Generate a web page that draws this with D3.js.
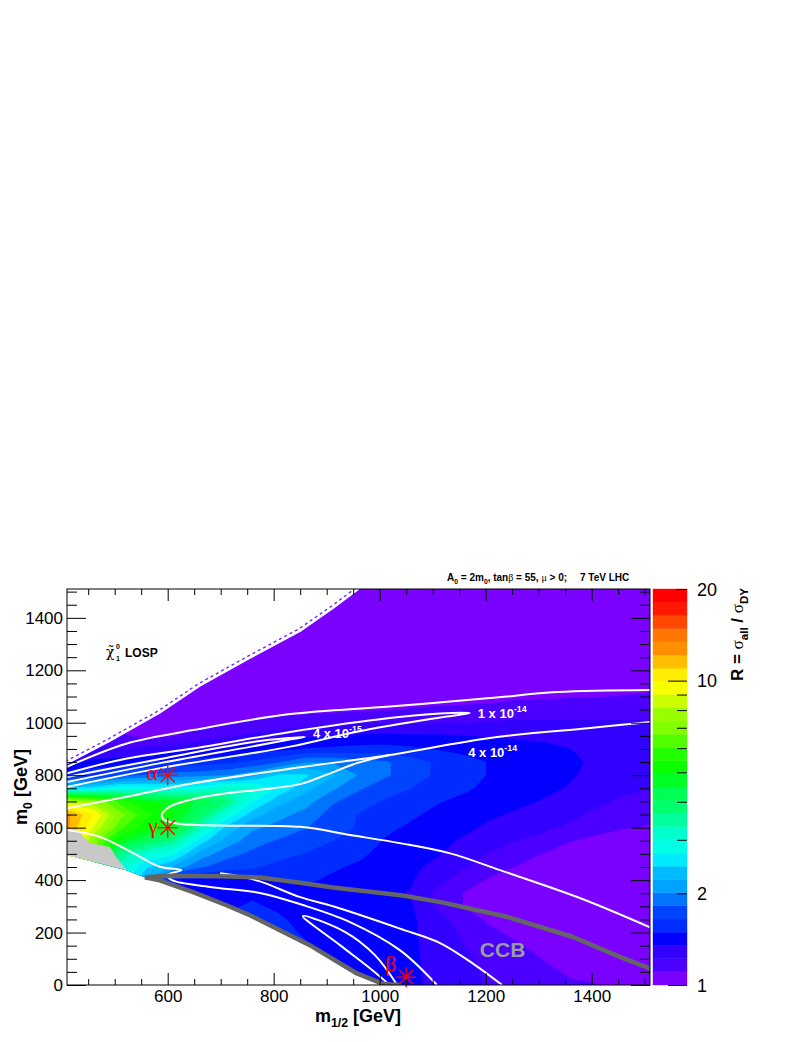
<!DOCTYPE html>
<html>
<head>
<meta charset="utf-8">
<script src="https://cdnjs.cloudflare.com/ajax/libs/d3/7.8.5/d3.min.js"></script>
<style>
  body { margin: 0; background: #fff; }
  text { font-family: "Liberation Sans", Arial, Helvetica, sans-serif; }
</style>
</head>
<body>
<svg id="chart" width="806" height="1042"></svg>
<script>
const m12Grid = [410,460,510,560,610,660,710,760,810,860,910,960,1010,1060,1110,1160,1210,1260,1310,1360,1410,1460,1510];
const m0Grid = [0,50,100,150,200,250,300,350,400,450,500,550,600,650,700,750,800,850,900,950,1000,1050,1100,1150,1200,1250,1300,1350,1400,1450,1500];

// R = sigma_all / sigma_DY, one row per m0 (bottom to top), one column per m1/2
const ratioGrid = [
  [10,6,3,2,1.45,1.45,1.5,1.52,1.52,1.5,1.48,1.44,1.4,1.37,1.32,1.26,1.21,1.18,1.15,1.12,1.11,1.03,1.03],
  [10,6,3,2,1.45,1.45,1.5,1.52,1.52,1.5,1.48,1.44,1.4,1.37,1.32,1.25,1.2,1.17,1.13,1.09,1.07,1.03,1.03],
  [10,6,3,2,1.45,1.45,1.5,1.52,1.52,1.5,1.48,1.44,1.41,1.37,1.31,1.24,1.19,1.15,1.1,1.05,1.03,1.03,1.03],
  [10,6,3,2,1.45,1.45,1.5,1.52,1.52,1.5,1.47,1.44,1.41,1.37,1.3,1.22,1.17,1.12,1.06,1.03,1.03,1.03,1.03],
  [10,6,3,2,1.45,1.45,1.5,1.52,1.52,1.48,1.46,1.44,1.41,1.37,1.29,1.2,1.13,1.07,1.04,1.03,1.03,1.03,1.03],
  [10,6,3,2,1.45,1.45,1.5,1.52,1.5,1.47,1.45,1.44,1.41,1.37,1.27,1.16,1.08,1.04,1.03,1.03,1.03,1.03,1.03],
  [10,6,3,2,1.45,1.45,1.48,1.5,1.48,1.46,1.45,1.43,1.41,1.36,1.2,1.1,1.04,1.03,1.03,1.03,1.03,1.03,1.03],
  [10,6,3,2,1.45,1.45,1.46,1.48,1.47,1.46,1.45,1.43,1.38,1.34,1.18,1.1,1.05,1.04,1.03,1.03,1.03,1.03,1.03],
  [10,6,3,2.2,1.45,1.45,1.46,1.48,1.48,1.51,1.47,1.44,1.39,1.36,1.26,1.16,1.09,1.06,1.04,1.03,1.03,1.03,1.03],
  [10,6,3.2,2.5,2.2,1.85,1.72,1.67,1.6,1.56,1.51,1.47,1.42,1.38,1.31,1.23,1.15,1.1,1.06,1.03,1.03,1.03,1.03],
  [11,6.5,3.6,3.0,2.8,2.15,1.9,1.78,1.7,1.64,1.58,1.52,1.45,1.41,1.36,1.28,1.21,1.16,1.1,1.06,1.05,1.03,1.03],
  [12.5,7.2,4.9,4.1,3.6,2.6,2.15,1.9,1.8,1.73,1.65,1.57,1.48,1.44,1.39,1.33,1.27,1.22,1.19,1.11,1.08,1.06,1.05],
  [12.5,9.0,6.2,5.1,4.7,3.3,2.4,2.05,1.95,1.83,1.73,1.63,1.52,1.47,1.43,1.38,1.32,1.28,1.24,1.2,1.14,1.11,1.1],
  [12.5,10.0,7.0,5.6,5.0,4.0,2.95,2.35,2.07,1.95,1.75,1.64,1.56,1.51,1.46,1.42,1.37,1.33,1.29,1.25,1.19,1.14,1.12],
  [8.5,7.5,5.8,5.0,4.8,4.4,3.8,2.75,2.3,2.1,1.85,1.72,1.63,1.57,1.5,1.46,1.41,1.38,1.34,1.3,1.25,1.2,1.17],
  [2.5,2.6,2.9,2.85,2.8,2.9,3.2,3.1,2.65,2.3,2.05,1.85,1.72,1.65,1.57,1.51,1.46,1.42,1.38,1.34,1.29,1.25,1.22],
  [1.55,1.62,1.75,1.85,1.9,1.95,2.0,2.15,2.5,2.5,2.25,2.0,1.85,1.72,1.62,1.54,1.48,1.44,1.4,1.36,1.32,1.29,1.26],
  [1.32,1.38,1.42,1.5,1.53,1.56,1.6,1.68,1.8,2.0,2.0,1.9,1.85,1.72,1.62,1.54,1.48,1.44,1.41,1.37,1.33,1.31,1.28],
  [1.25,1.25,1.22,1.25,1.3,1.35,1.38,1.42,1.45,1.5,1.52,1.54,1.55,1.52,1.48,1.45,1.42,1.4,1.38,1.35,1.32,1.3,1.28],
  [1.2,1.18,1.12,1.08,1.1,1.15,1.2,1.25,1.3,1.33,1.35,1.37,1.38,1.37,1.37,1.35,1.34,1.33,1.32,1.31,1.29,1.27,1.25],
  [1.15,1.12,1.06,1.05,1.06,1.08,1.1,1.12,1.15,1.17,1.19,1.21,1.22,1.22,1.22,1.22,1.23,1.25,1.25,1.25,1.25,1.24,1.23],
  [1.1,1.08,1.05,1.05,1.05,1.05,1.05,1.05,1.06,1.07,1.08,1.09,1.1,1.11,1.12,1.12,1.13,1.15,1.15,1.15,1.15,1.15,1.17],
  [1.05,1.05,1.05,1.05,1.05,1.05,1.05,1.05,1.05,1.05,1.05,1.06,1.06,1.07,1.07,1.08,1.08,1.09,1.09,1.1,1.1,1.11,1.12],
  [1.04,1.04,1.04,1.04,1.04,1.04,1.04,1.04,1.04,1.04,1.04,1.04,1.04,1.04,1.04,1.04,1.04,1.05,1.05,1.05,1.06,1.06,1.07],
  [1.04,1.04,1.04,1.04,1.04,1.04,1.04,1.04,1.04,1.04,1.04,1.04,1.04,1.04,1.04,1.04,1.04,1.04,1.04,1.04,1.04,1.04,1.04],
  [1.04,1.04,1.04,1.04,1.04,1.04,1.04,1.04,1.04,1.04,1.04,1.04,1.04,1.04,1.04,1.04,1.04,1.04,1.04,1.04,1.04,1.04,1.04],
  [1.04,1.04,1.04,1.04,1.04,1.04,1.04,1.04,1.04,1.04,1.04,1.04,1.04,1.04,1.04,1.04,1.04,1.04,1.04,1.04,1.04,1.04,1.04],
  [1.04,1.04,1.04,1.04,1.04,1.04,1.04,1.04,1.04,1.04,1.04,1.04,1.04,1.04,1.04,1.04,1.04,1.04,1.04,1.04,1.04,1.04,1.04],
  [1.04,1.04,1.04,1.04,1.04,1.04,1.04,1.04,1.04,1.04,1.04,1.04,1.04,1.04,1.04,1.04,1.04,1.04,1.04,1.04,1.04,1.04,1.04],
  [1.04,1.04,1.04,1.04,1.04,1.04,1.04,1.04,1.04,1.04,1.04,1.04,1.04,1.04,1.04,1.04,1.04,1.04,1.04,1.04,1.04,1.04,1.04],
  [1.04,1.04,1.04,1.04,1.04,1.04,1.04,1.04,1.04,1.04,1.04,1.04,1.04,1.04,1.04,1.04,1.04,1.04,1.04,1.04,1.04,1.04,1.04]
];

// boundaries, (m1/2, m0) in GeV
const lospBoundary = [[410,845],[491,931],[585,1038],[660,1140],[755,1247],[850,1350],[912,1437],[960,1510]];
const lowerBoundary = [[557,411],[585,399],[648,354],[711,304],[755,266],[774,247],[868,152],[957,44],[1005,5],[1040,0]];
const ccbLine = [[557,411],[600,417],[700,415],[775,410],[850,390],[912,372],[1040,342],[1115,316],[1240,260],[1365,183],[1453,107],[1510,63]];
const grayRegion = [[410,599],[435,580],[453,541],[491,526],[504,484],[523,438],[500,450],[460,470],[410,496]];

// cross-section contours (white lines)
const xsec4e14Upper = [[410,832],[523,921],[648,972],[831,1033],[1019,1062],[1208,1094],[1335,1117],[1510,1125]];
const xsec4e14Lower = [[410,674],[523,718],[648,769],[850,830],[1019,877],[1208,942],[1397,980],[1510,1003]];
const xsec1e14 = [[410,807],[523,864],[648,902],[831,965],[1019,1018],[1114,1035],[1170,1037],[1114,1020],[957,966],[831,909],[586,827],[410,755]];
const xsec4e15 = [[410,793],[586,862],[755,925],[830,942],[859,946],[830,936],[755,908],[586,846],[410,774]];
const xsecNose = [[1019,877],[960,848],[900,802],[850,766],[780,746],[711,731],[640,705],[604,680],[589,650],[592,632],[617,616],[700,608],[850,603],[944,572],[1038,541],[1133,502],[1227,438],[1380,330],[1510,220]];
const xsecLowA = [[410,591],[472,565],[535,503],[585,451],[626,438],[599,419],[608,400],[680,374],[774,351],[855,305],[944,240],[1038,133],[1108,0]];
const xsecLowB = [[699,426],[724,419],[774,395],[850,335],[912,300],[1038,215],[1114,160],[1180,76],[1231,0]];
const xsecHairpin = [[1033,0],[991,114],[935,202],[855,263],[925,152],[981,65],[1019,0]];

const benchmarks = [
  { name: "α", m12: 600, m0: 800 },
  { name: "γ", m12: 600, m0: 600 },
  { name: "β", m12: 1050, m0: 30 }
];

const xMajor = [600, 800, 1000, 1200, 1400];
const yMajor = [0, 200, 400, 600, 800, 1000, 1200, 1400];
const zLabels = [1, 2, 10, 20];

const svg = d3.select("#chart");
const x = d3.scaleLinear().domain([410, 1510]).range([67, 650]);
const y = d3.scaleLinear().domain([0, 1510]).range([985, 589]);
const z = d3.scaleLog().domain([1, 20]).range([985, 589]);

// ROOT "pretty" palette with 30 log-spaced contour levels
const nLevels = 30;
const edges = d3.range(nLevels + 1).map(i => Math.pow(20, i / nLevels));
function bandColor(i) {
  const k = Math.floor((i + 0.99) * 50 / nLevels);
  return d3.hsl(280 - (k + 1) * 5.6, 1, 0.5).formatHex();
}

const defs = svg.append("defs");
const pt = d => [x(d[0]), y(d[1])];
const allowed = [...lospBoundary, [1510, 1510], [1510, 0], ...lowerBoundary.slice().reverse(), [523, 438], [460, 470], [410, 496]];
defs.append("clipPath").attr("id", "allowed")
  .append("path").attr("d", "M" + allowed.map(pt).join("L") + "Z");
defs.append("clipPath").attr("id", "frame")
  .append("rect").attr("x", 67).attr("y", 589).attr("width", 583).attr("height", 396);

// filled colour bands
const nx = m12Grid.length, ny = m0Grid.length;
const dx = m12Grid[1] - m12Grid[0], dy = m0Grid[1] - m0Grid[0];
const logValues = ratioGrid.flat().map(v => Math.log10(v));
const bands = d3.contours().size([nx, ny])
  .thresholds(edges.slice(0, nLevels).map(e => Math.log10(e)))(logValues);
const toPx = d3.geoTransform({
  point(gx, gy) {
    this.stream.point(x(m12Grid[0] + (gx - 0.5) * dx), y(m0Grid[0] + (gy - 0.5) * dy));
  }
});
const bandPath = d3.geoPath(toPx);

const heat = svg.append("g").attr("clip-path", "url(#allowed)");
heat.selectAll("path").data(bands).enter().append("path")
  .attr("d", bandPath)
  .attr("fill", (d, i) => bandColor(i));

svg.append("path")
  .attr("d", "M" + grayRegion.map(pt).join("L") + "Z")
  .attr("fill", "#c8c8c8");

const lines = svg.append("g").attr("clip-path", "url(#frame)");
const smooth = d3.line().x(d => x(d[0])).y(d => y(d[1])).curve(d3.curveCatmullRom.alpha(0.5));
const straight = d3.line().x(d => x(d[0])).y(d => y(d[1]));

// LOSP boundary: dashed violet edge and white line
lines.append("path").attr("d", straight(lospBoundary))
  .attr("transform", "translate(-1.5,-2)")
  .attr("fill", "none").attr("stroke", "#6f2cff").attr("stroke-width", 1.4).attr("stroke-dasharray", "3,3");
lines.append("path").attr("d", straight(lospBoundary))
  .attr("fill", "none").attr("stroke", "#fff").attr("stroke-width", 1.8);

// white cross-section contours
[xsec4e14Upper, xsec4e14Lower, xsec1e14, xsec4e15, xsecNose, xsecLowA, xsecLowB, xsecHairpin].forEach(c => {
  lines.append("path").attr("d", smooth(c))
    .attr("fill", "none").attr("stroke", "#fff").attr("stroke-width", 2);
});

// CCB and lower boundaries
[ccbLine, lowerBoundary].forEach(c => {
  lines.append("path").attr("d", straight(c))
    .attr("fill", "none").attr("stroke", "#656565").attr("stroke-width", 4.5).attr("stroke-linejoin", "round");
});

svg.append("text").attr("x", x(1189)).attr("y", y(107))
  .style("font-size", "21px").style("font-weight", "bold").attr("fill", "#9b9b9b").text("CCB");

// rich text helper (sub / superscripts)
function rich(parent, parts, size) {
  const t = parent.append("text").style("font-size", size + "px");
  let prev = 0;
  parts.forEach(p => {
    const off = p.sub ? size * 0.3 : p.sup ? -size * 0.45 : 0;
    const ts = t.append("tspan").attr("dy", off - prev).text(p.t);
    if (p.sub || p.sup) ts.style("font-size", (size * 0.68) + "px");
    if (p.serif) ts.style("font-family", "'Liberation Serif', 'DejaVu Serif', serif").style("font-weight", "normal");
    prev = off;
  });
  return t;
}

// contour labels
[
  { a: "4 x 10", e: "-15", m12: 874, m0: 942 },
  { a: "1 x 10", e: "-14", m12: 1185, m0: 1018 },
  { a: "4 x 10", e: "-14", m12: 1167, m0: 869 }
].forEach(l => {
  rich(svg, [{ t: l.a }, { t: l.e, sup: true }], 13)
    .attr("x", x(l.m12)).attr("y", y(l.m0))
    .attr("fill", "#fff").style("font-weight", "bold");
});

// benchmark points
const bm = svg.append("g");
benchmarks.forEach(b => {
  const cx = x(b.m12), cy = y(b.m0), r = 10;
  [0, 45, 90, 135].forEach(a => {
    const c = Math.cos(a * Math.PI / 180) * r, s = Math.sin(a * Math.PI / 180) * r;
    bm.append("line").attr("x1", cx - c).attr("y1", cy - s).attr("x2", cx + c).attr("y2", cy + s)
      .attr("stroke", "#ff0000").attr("stroke-width", 1.3);
  });
  bm.append("text").attr("x", cx - 10).attr("y", b.name === "β" ? cy - 6 : cy + 5)
    .attr("text-anchor", "end").attr("fill", "#ff0000")
    .style("font-family", "'Liberation Serif', 'DejaVu Serif', serif").style("font-size", "22px")
    .text(b.name);
});

// frame and axes
const tickAxis = (axis, g) => { g.call(axis); g.select(".domain").remove(); return g; };
const xMinor = d3.range(450, 1510, 50).filter(v => !xMajor.includes(v));
const yMinor = d3.range(50, 1510, 50).filter(v => !yMajor.includes(v));

tickAxis(d3.axisBottom(x).tickValues(xMajor).tickSize(-12).tickPadding(5).tickFormat(d3.format("d")),
  svg.append("g").attr("transform", "translate(0,985)"));
tickAxis(d3.axisBottom(x).tickValues(xMinor).tickSize(-6).tickFormat(""),
  svg.append("g").attr("transform", "translate(0,985)"));
tickAxis(d3.axisTop(x).tickValues(xMajor).tickSize(-12).tickFormat(""),
  svg.append("g").attr("transform", "translate(0,589)"));
tickAxis(d3.axisTop(x).tickValues(xMinor).tickSize(-6).tickFormat(""),
  svg.append("g").attr("transform", "translate(0,589)"));
tickAxis(d3.axisLeft(y).tickValues(yMajor).tickSize(-19).tickPadding(4).tickFormat(d3.format("d")),
  svg.append("g").attr("transform", "translate(67,0)"));
tickAxis(d3.axisLeft(y).tickValues(yMinor).tickSize(-10).tickFormat(""),
  svg.append("g").attr("transform", "translate(67,0)"));
tickAxis(d3.axisRight(y).tickValues(yMajor).tickSize(-19).tickFormat(""),
  svg.append("g").attr("transform", "translate(650,0)"));
tickAxis(d3.axisRight(y).tickValues(yMinor).tickSize(-10).tickFormat(""),
  svg.append("g").attr("transform", "translate(650,0)"));
svg.selectAll(".tick text").style("font-size", "17px").attr("fill", "#000");
svg.selectAll(".tick line").attr("stroke", "#000");

svg.append("rect").attr("x", 67).attr("y", 589).attr("width", 583).attr("height", 396)
  .attr("fill", "none").attr("stroke", "#000").attr("stroke-width", 1);

// colour bar
const bar = svg.append("g");
bar.selectAll("rect").data(d3.range(nLevels)).enter().append("rect")
  .attr("x", 653).attr("width", 34)
  .attr("y", i => z(edges[i + 1])).attr("height", i => z(edges[i]) - z(edges[i + 1]))
  .attr("fill", i => bandColor(i)).attr("stroke", i => bandColor(i)).attr("stroke-width", 0.4);
tickAxis(d3.axisRight(z).tickValues([1, 10]).tickSize(-19).tickFormat(""),
  bar.append("g").attr("transform", "translate(687,0)"));
tickAxis(d3.axisRight(z).tickValues([2, 3, 4, 5, 6, 7, 8, 9, 20]).tickSize(-10).tickFormat(""),
  bar.append("g").attr("transform", "translate(687,0)"));
bar.selectAll(".tick line").attr("stroke", "#000");
bar.selectAll(".zlab").data(zLabels).enter().append("text")
  .attr("x", 697).attr("y", d => z(d) + 6.5)
  .style("font-size", "18px").text(d => d);

// titles
rich(svg, [{ t: "m" }, { t: "1/2", sub: true }, { t: " [GeV]" }], 18)
  .attr("x", 358).attr("y", 1022).attr("text-anchor", "middle").style("font-weight", "bold");
rich(svg, [{ t: "m" }, { t: "0", sub: true }, { t: " [GeV]" }], 18)
  .attr("transform", "translate(27,787) rotate(-90)").attr("text-anchor", "middle").style("font-weight", "bold");
rich(svg, [{ t: "R = " }, { t: "σ", serif: true }, { t: "all", sub: true }, { t: " / " }, { t: "σ", serif: true }, { t: "DY", sub: true }], 17)
  .attr("transform", "translate(743,588) rotate(-90)").attr("text-anchor", "end").style("font-weight", "bold");

rich(svg, [{ t: "A" }, { t: "0", sub: true }, { t: " = 2m" }, { t: "0", sub: true }, { t: ", tan" },
  { t: "β", serif: true }, { t: " = 55, " }, { t: "μ", serif: true }, { t: " > 0;" }], 10)
  .attr("x", 447).attr("y", 581).style("font-weight", "bold");
svg.append("text").attr("x", 580).attr("y", 581).style("font-size", "10px").style("font-weight", "bold").text("7 TeV LHC");

// neutralino LOSP label
svg.append("text").attr("x", 106).attr("y", 657)
  .style("font-family", "'DejaVu Serif', serif").style("font-size", "14px").text("\u03c7\u0303");
svg.append("text").attr("x", 116).attr("y", 649).style("font-size", "7px").style("font-weight", "bold").text("0");
svg.append("text").attr("x", 116).attr("y", 661).style("font-size", "7px").style("font-weight", "bold").text("1");
svg.append("text").attr("x", 125).attr("y", 657).style("font-size", "12px").style("font-weight", "bold").text("LOSP");
</script>
</body>
</html>
